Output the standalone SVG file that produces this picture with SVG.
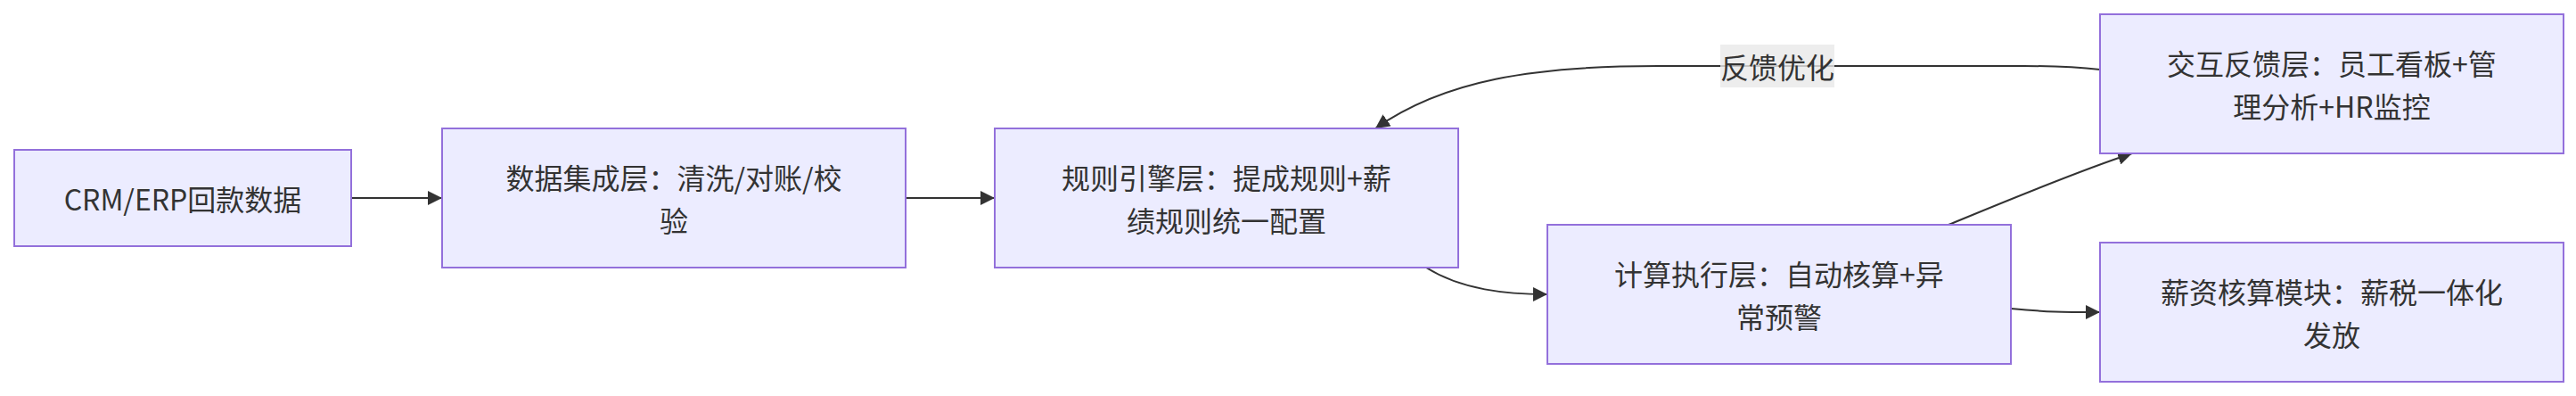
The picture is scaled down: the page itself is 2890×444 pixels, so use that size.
<svg xmlns="http://www.w3.org/2000/svg" width="2890" height="444" viewBox="0 0 2890 444">
<style>
.node rect{fill:#ECECFF;stroke:#9370DB;stroke-width:2}
.node text,.elabel text{font-family:"Noto Sans CJK SC","Liberation Sans",sans-serif;font-size:32px;fill:#333333;text-anchor:middle;dominant-baseline:central}
.edge{fill:none;stroke:#333333;stroke-width:2;marker-end:url(#arrow)}
.elabel rect{fill:#e8e8e8;fill-opacity:0.8}
</style>
<defs>
<marker id="arrow" viewBox="0 0 10 10" refX="10" refY="5" markerWidth="16" markerHeight="16" markerUnits="userSpaceOnUse" orient="auto">
<path d="M0,0 L10,5 L0,10 z" fill="#333333"/>
</marker>
</defs>
<rect width="2890" height="444" fill="#ffffff"/>
<g id="connectors">
<path class="edge" d="M394,222 L496,222"/>
<path class="edge" d="M1016,222 L1116,222"/>
<path class="edge" d="M1600,300 C1640,325 1690,330 1736,330"/>
<path class="edge" d="M2186,252 C2230,234 2330,192 2392,172"/>
<path class="edge" d="M2256,346 C2300,350 2310,350 2356,350"/>
<path class="edge" d="M2356,78 C2330,75 2310,74 2270,74 L1860,74 C1720,74 1620,90 1543,144"/>
<g class="elabel" id="label-feedback">
<rect x="1930" y="50" width="128" height="48"/>
<text x="1994" y="74">反馈优化</text>
</g>
</g>
<g class="node" id="node-crm">
<rect x="16" y="168" width="378" height="108"/>
<text x="205" y="222">CRM/ERP回款数据</text>
</g>
<g class="node" id="node-data">
<rect x="496" y="144" width="520" height="156"/>
<text x="756" y="198">数据集成层：清洗/对账/校</text>
<text x="756" y="246">验</text>
</g>
<g class="node" id="node-rule">
<rect x="1116" y="144" width="520" height="156"/>
<text x="1376" y="198">规则引擎层：提成规则+薪</text>
<text x="1376" y="246">绩规则统一配置</text>
</g>
<g class="node" id="node-calc">
<rect x="1736" y="252" width="520" height="156"/>
<text x="1996" y="306">计算执行层：自动核算+异</text>
<text x="1996" y="354">常预警</text>
</g>
<g class="node" id="node-interact">
<rect x="2356" y="16" width="520" height="156"/>
<text x="2616" y="70">交互反馈层：员工看板+管</text>
<text x="2616" y="118">理分析+HR监控</text>
</g>
<g class="node" id="node-salary">
<rect x="2356" y="272" width="520" height="156"/>
<text x="2616" y="326">薪资核算模块：薪税一体化</text>
<text x="2616" y="374">发放</text>
</g>
</svg>
